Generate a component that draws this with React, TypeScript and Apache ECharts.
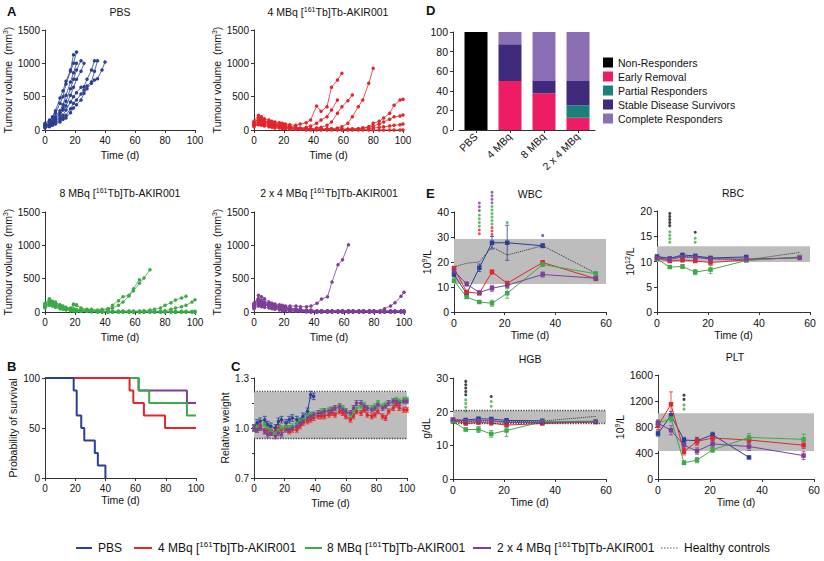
import React, { useEffect, useRef } from 'react';
import * as echarts from 'echarts';

// ---------------- Data ----------------
const groupNames = ['PBS', '4 MBq [161Tb]Tb-AKIR001', '8 MBq [161Tb]Tb-AKIR001', '2 x 4 MBq [161Tb]Tb-AKIR001'];
const healthyName = 'Healthy controls';

// Panel A – individual tumour volumes (mm3)
const pbsDays = [0, 3, 5, 7, 10, 12, 14, 17, 19, 21, 24, 26, 28, 31, 33, 35, 38, 40];
const pbsMice = [
  [80, 130, 200, 290, 480, 590, 730, 900, 1130],
  [100, 150, 180, 250, 400, 500, 690, 880, 1000, 1170],
  [60, 90, 130, 200, 290, 380, 520, 720, 860, 1000],
  [70, 100, 140, 170, 260, 330, 430, 620, 760, 900, 1040],
  [50, 80, 110, 150, 220, 300, 360, 520, 640, 760, 880, 1000],
  [90, 60, 100, 130, 180, 220, 300, 420, 500, 560, 640, 650, 760, 900, 1040],
  [40, 60, 80, 110, 150, 180, 220, 320, 400, 450, 540, 600, 660, 720, 880, 1040],
  [30, 50, 70, 90, 120, 160, 180, 260, 330, 380, 450, 550, 620, 700, 750, 770, 900, 1020],
];
const tDays = [0, 3, 5, 7, 10, 12, 14, 17, 19, 21, 24, 28, 31, 35, 38, 42, 45, 49, 52, 56, 59, 63, 66, 70, 73, 77, 80, 84, 87, 91, 94, 98, 100];
const mbq4Mice = [
  [130, 220, 200, 170, 150, 130, 120, 110, 100, 90, 80, 70, 90, 110, 150, 360, 280, 350, 640, 750, 850],
  [100, 180, 160, 140, 120, 110, 100, 90, 80, 70, 60, 40, 30, 40, 60, 100, 150, 200, 300, 450],
  [80, 150, 140, 120, 100, 90, 80, 70, 60, 50, 40, 30, 20, 20, 20, 30, 40, 70, 120, 250, 350, 440, 525],
  [60, 100, 90, 80, 70, 60, 50, 40, 30, 30, 20, 20, 10, 10, 10, 10, 10, 20, 20, 30, 50, 100, 200, 350, 450, 700, 925],
  [120, 160, 150, 130, 110, 100, 80, 70, 60, 50, 40, 30, 20, 20, 10, 10, 10, 10, 10, 10, 10, 10, 20, 20, 30, 50, 100, 130, 180, 250, 370, 450, 460],
  [90, 130, 120, 110, 100, 90, 80, 60, 50, 40, 30, 20, 20, 10, 10, 10, 10, 10, 10, 10, 10, 10, 10, 20, 30, 40, 60, 90, 120, 160, 200, 210, 225],
  [70, 100, 100, 90, 80, 70, 60, 50, 40, 30, 30, 20, 20, 10, 10, 10, 10, 10, 10, 10, 10, 10, 10, 10, 10, 20, 30, 40, 50, 60, 70, 80, 90],
  [50, 80, 70, 60, 50, 40, 30, 30, 20, 20, 10, 10, 10, 0, 0, 0, 0, 0, 0, 0, 0, 0, 0, 0, 0, 0, 0, 0, 0, 0, 0, 0, 0],
];
const mbq8Mice = [
  [100, 200, 160, 150, 100, 80, 60, 50, 110, 100, 60, 40, 40, 30, 40, 50, 100, 170, 230, 250, 350, 485],
  [80, 150, 130, 120, 90, 70, 50, 40, 120, 110, 50, 30, 30, 20, 30, 40, 60, 100, 150, 240, 320, 430, 510, 635],
  [120, 180, 140, 120, 80, 60, 50, 40, 30, 30, 20, 20, 10, 10, 10, 10, 10, 10, 10, 10, 10, 10, 20, 30, 40, 60, 100, 140, 180, 210, 235],
  [90, 140, 120, 100, 70, 60, 50, 40, 30, 30, 20, 20, 10, 10, 10, 10, 10, 10, 10, 10, 10, 10, 10, 10, 10, 10, 20, 40, 60, 80, 100, 150, 185],
  [110, 130, 110, 90, 80, 70, 60, 50, 40, 30, 20, 10, 10, 0, 0, 0, 0, 0, 0, 0, 0, 0, 0, 0, 0, 0, 0, 0, 0, 0, 0, 0, 0],
  [60, 110, 100, 80, 60, 50, 40, 30, 20, 20, 10, 10, 10, 10, 0, 0, 0, 0, 0, 0, 0, 0, 0, 0, 0, 0, 0, 0, 0, 0, 0, 0, 0],
  [130, 190, 150, 130, 110, 90, 70, 60, 50, 40, 30, 20, 20, 10, 10, 10, 10, 10, 10, 10, 10, 10, 10, 10, 10, 10, 10, 10, 10, 10, 10, 10, 10],
  [70, 100, 90, 70, 50, 40, 30, 20, 20, 10, 10, 10, 0, 0, 0, 0, 0, 0, 0, 0, 0, 0, 0, 0, 0, 0, 0, 0, 0, 0, 0, 0, 0],
];
const mbq2x4Mice = [
  [110, 250, 230, 200, 150, 130, 120, 110, 100, 90, 90, 90, 80, 80, 90, 130, 195, 230, 450, 710, 785, 1010],
  [130, 200, 180, 150, 120, 100, 90, 80, 70, 60, 50, 40, 30, 20, 20, 20, 20, 20, 20, 20, 20, 20, 20, 20, 20, 20, 20, 20, 50, 90, 140, 235, 295],
  [100, 170, 150, 130, 110, 100, 90, 80, 70, 60, 50, 40, 30, 20, 20, 10, 10, 10, 10, 10, 10, 10, 10, 10, 10, 10, 10, 10, 10, 10, 10, 10, 10],
  [80, 140, 130, 110, 100, 90, 80, 70, 60, 50, 40, 30, 20, 10, 10, 0, 0, 0, 0, 0, 0, 0, 0, 0, 0, 0, 0, 0, 0, 0, 0, 0, 0],
  [60, 120, 110, 100, 90, 80, 70, 60, 50, 40, 30, 20, 10, 10, 0, 0, 0, 0, 0, 0, 0, 0, 0, 0, 0, 0, 0, 0, 0, 0, 0, 0, 0],
  [120, 190, 170, 150, 130, 110, 100, 90, 80, 70, 60, 50, 40, 30, 30, 20, 20, 20, 20, 20, 20, 20, 20, 20, 20, 20, 20, 20, 20, 20, 20, 20, 20],
  [50, 90, 80, 70, 60, 50, 40, 30, 20, 20, 10, 10, 10, 0, 0, 0, 0, 0, 0, 0, 0, 0, 0, 0, 0, 0, 0, 0, 0, 0, 0, 0, 0],
  [90, 160, 140, 120, 100, 80, 60, 50, 40, 30, 20, 20, 10, 10, 10, 10, 10, 10, 10, 10, 10, 10, 10, 10, 10, 10, 10, 10, 10, 10, 10, 10, 10],
];

// Panel B – survival (%)
const survPBS = [[0, 100], [19, 87.5], [21, 62.5], [24, 50], [26, 37.5], [33, 25], [35, 12.5], [40, 0]];
const surv4 = [[0, 100], [56, 87.5], [58.5, 75], [65.5, 62.5], [79.5, 50], [100, 50]];
const surv8 = [[0, 100], [62, 87.5], [69, 75], [94, 62.5], [100, 62.5]];
const surv2x4 = [[0, 100], [62, 87.5], [94, 75], [100, 75]];

// Panel C – relative weight
const cDays = [0, 2, 4, 7, 9, 11, 14, 16, 18, 21, 23, 25, 28, 30, 32, 35, 37, 39, 42, 44, 46, 49, 51, 53, 56, 58, 60, 63, 65, 67, 70, 72, 74, 77, 79, 81, 84, 86, 88, 91, 93, 95, 98, 100];
const cPBS = [1.0, 1.03, 1.04, 1.05, 1.02, 1.01, 1.0, 1.04, 1.05, 1.03, 1.05, 1.06, 1.05, 1.04, 1.07, 1.10, 1.20, 1.19];
const cM4 = [1.0, 0.99, 1.01, 0.98, 0.99, 0.97, 0.98, 1.0, 0.99, 1.0, 0.98, 0.99, 0.99, 1.01, 1.03, 1.04, 1.05, 1.06, 1.07, 1.07, 1.07, 1.08, 1.09, 1.08, 1.10, 1.09, 1.07, 1.05, 1.07, 1.10, 1.09, 1.11, 1.08, 1.07, 1.08, 1.10, 1.07, 1.06, 1.10, 1.12, 1.14, 1.12, 1.11, 1.11];
const cM8 = [1.0, 1.01, 1.0, 1.02, 1.0, 0.98, 0.97, 0.99, 1.0, 1.01, 1.0, 1.01, 1.02, 1.04, 1.05, 1.07, 1.08, 1.08, 1.09, 1.10, 1.10, 1.11, 1.11, 1.12, 1.13, 1.12, 1.10, 1.08, 1.10, 1.12, 1.13, 1.14, 1.12, 1.12, 1.13, 1.15, 1.13, 1.14, 1.15, 1.16, 1.17, 1.16, 1.17, 1.17];
const cM24 = [1.0, 0.99, 1.0, 0.98, 0.96, 0.97, 0.95, 0.97, 0.96, 0.99, 0.99, 1.0, 1.01, 1.03, 1.04, 1.06, 1.07, 1.08, 1.09, 1.09, 1.10, 1.10, 1.11, 1.12, 1.13, 1.11, 1.10, 1.09, 1.12, 1.15, 1.15, 1.13, 1.12, 1.11, 1.12, 1.14, 1.12, 1.13, 1.15, 1.16, 1.16, 1.15, 1.16, 1.16];
const cErr = [0.02, 0.015, 0.015, 0.015];
const weightBand = [0.935, 1.215];

// Panel D – response (%)
const dCats = ['PBS', '4 MBq', '8 MBq', '2 x 4 MBq'];
const dNames = ['Non-Responders', 'Early Removal', 'Partial Responders', 'Stable Disease Survivors', 'Complete Responders'];
const dNonResp = [100, 0, 0, 0];
const dEarly = [0, 50, 37.5, 12.5];
const dPartial = [0, 0, 0, 12.5];
const dStable = [0, 37.5, 12.5, 25];
const dComplete = [0, 12.5, 50, 50];

// Panel E – blood counts (order: PBS, 4 MBq, 8 MBq, 2 x 4 MBq)
const eDays = [0, 5, 10, 15, 21, 35, 56];
const wbcMean = [
  [15, 7.3, 17.7, 27.7, 27.7, 26.5],
  [17.5, 8, 7.5, 16, 11.5, 19.8, 13.3],
  [12.5, 6, 4, 3.5, 7.5, 19, 15.3],
  [16.4, 11.2, 7.8, 9.5, 10.7, 15, 13.5],
];
const wbcErr = [
  [1, 1, 1.5, 2.5, 7, 0.8],
  [0.8, 0.6, 0.6, 0.8, 0.8, 0.8, 0.8],
  [0.8, 0.5, 0.6, 1.2, 2, 0.8, 0.8],
  [0.8, 0.8, 0.6, 1.2, 1, 1, 0.8],
];
const wbcHealthy = [18, 19.5, 20, 26, 22.8, 26.5, 15.5];
const wbcBand = [11.2, 29.2];
const wbcStars = [
  [10, 31.3, 1], [10, 32.8, 1], [10, 34.3, 2], [10, 35.8, 2], [10, 37.3, 2], [10, 38.8, 2], [10, 40.6, 3], [10, 42.1, 3], [10, 43.6, 3],
  [15, 31.0, 1], [15, 32.4, 1], [15, 33.8, 1], [15, 35.2, 2], [15, 36.6, 2], [15, 38.0, 2], [15, 39.4, 2], [15, 40.8, 2], [15, 42.2, 2],
  [15, 43.7, 3], [15, 45.1, 3], [15, 46.5, 3], [15, 47.9, 3], [21, 35.8, 2], [35, 30.6, 0],
];
const rbcMean = [
  [11, 10.6, 11.3, 11.1, 10.7, 10.9],
  [10.6, 10.1, 10.3, 10.1, 9.8, 10.3, 10.8],
  [10.5, 8.9, 9.0, 7.9, 8.4, 10.2, 10.9],
  [10.7, 10.4, 10.9, 10.8, 10.5, 10.5, 10.7],
];
const rbcErr = [
  [0.2, 0.2, 0.2, 0.3, 0.3, 0.2],
  [0.2, 0.2, 0.4, 0.3, 0.3, 0.2, 0.3],
  [0.2, 0.2, 0.4, 0.5, 0.8, 0.2, 0.2],
  [0.2, 0.3, 0.3, 0.3, 0.3, 0.2, 0.2],
];
const rbcHealthy = [10.8, 10.7, 11.0, 10.9, 10.6, 10.3, 11.8];
const rbcBand = [9.9, 13];
const rbcStars = [
  [5, 19.5, 4], [5, 18.9, 4], [5, 18.3, 4], [5, 17.7, 4], [5, 17.1, 4], [5, 15.9, 2], [5, 15.2, 2], [5, 14.5, 2], [5, 13.8, 2],
  [15, 15.8, 4], [15, 14.6, 2], [15, 13.8, 2],
];
const hgbMean = [
  [17.5, 17.5, 17.9, 17.8, 17.4, 17.3],
  [17.3, 16.5, 16.8, 16.6, 16.0, 16.5, 16.9],
  [17.0, 14.7, 14.7, 13.4, 14.4, 17.0, 17.2],
  [17.7, 17.2, 17.3, 17.3, 16.8, 16.8, 17.0],
];
const hgbErr = [
  [0.4, 0.5, 0.4, 0.5, 0.5, 0.4],
  [0.4, 0.4, 0.5, 0.5, 0.5, 0.3, 0.4],
  [0.4, 0.4, 0.9, 1.0, 1.8, 0.4, 0.4],
  [0.4, 0.4, 0.4, 0.4, 0.4, 0.4, 0.4],
];
const hgbHealthy = [17.3, 17.0, 17.3, 17.2, 17.0, 17.2, 18.6];
const hgbBand = [16.6, 20.3];
const hgbStars = [
  [5, 29, 4], [5, 28, 4], [5, 27, 4], [5, 26, 4], [5, 25, 4], [5, 23.5, 2], [5, 22.4, 2], [5, 21.3, 2], [5, 20.2, 2],
  [15, 24.5, 4], [15, 23, 2], [15, 21.6, 2],
];
const pltMean = [
  [700, 980, 600, 590, 680, 332],
  [820, 1150, 420, 580, 630, 600, 520],
  [860, 930, 250, 290, 450, 640, 610],
  [860, 750, 520, 430, 540, 500, 360],
];
const pltErr = [
  [40, 60, 40, 50, 40, 10],
  [60, 190, 50, 60, 50, 50, 50],
  [40, 50, 30, 40, 40, 60, 80],
  [50, 70, 60, 50, 50, 60, 60],
];
const pltBand = [430, 1010];
const pltStars = [[10, 1290, 4], [10, 1225, 4], [10, 1140, 2], [10, 1075, 2]];

// ---------------- Styling ----------------
const FONT = "'Liberation Sans', Arial, Helvetica, sans-serif";
const COLORS = ['#2B3F94', '#E3262B', '#3DAA49', '#7E3F98', '#111111'];
const D_COLORS = ['#000000', '#EE1C64', '#1B7F7A', '#3F2A7C', '#8B6FB5'];
const AXC = '#333333';
const TXT = '#111111';
const BAND = '#BDBDBD';

const supName = (s: string) => s.replace('[161Tb]', '[{s|161}Tb]');

function axis(grid: number, min: number, max: number, interval: number, name: string, gap: number, fs: number): any {
  return {
    type: 'value', gridIndex: grid, min, max, interval,
    name, nameLocation: 'middle', nameGap: gap,
    nameTextStyle: {
      fontSize: 10.5, color: TXT, fontFamily: FONT, lineHeight: 12,
      rich: { s: { fontSize: 7, lineHeight: 7, verticalAlign: 'top', color: TXT, fontFamily: FONT } },
    },
    axisLine: { show: true, onZero: false, lineStyle: { color: AXC, width: 1 } },
    axisTick: { show: true, length: 3, lineStyle: { color: AXC, width: 1 } },
    axisLabel: { fontSize: fs, color: TXT, margin: 5, fontFamily: FONT, formatter: (v: number) => String(v) },
    splitLine: { show: false },
  };
}

function errSeries(grid: number, items: number[][]): any {
  return {
    type: 'custom', xAxisIndex: grid, yAxisIndex: grid, silent: true, z: 2,
    data: items, encode: { x: 0, y: [1, 2] },
    renderItem: (_p: any, api: any) => {
      const x = api.value(0);
      const a = api.coord([x, api.value(1)]);
      const b = api.coord([x, api.value(2)]);
      const st = { stroke: COLORS[api.value(3)], lineWidth: 0.8 };
      const cap = 2;
      return {
        type: 'group',
        children: [
          { type: 'line', shape: { x1: a[0], y1: a[1], x2: b[0], y2: b[1] }, style: st },
          { type: 'line', shape: { x1: a[0] - cap, y1: a[1], x2: a[0] + cap, y2: a[1] }, style: st },
          { type: 'line', shape: { x1: b[0] - cap, y1: b[1], x2: b[0] + cap, y2: b[1] }, style: st },
        ],
      };
    },
  };
}

function bandSeries(grid: number, x0: number, x1: number, band: number[], dotted: boolean): any {
  const s: any = {
    type: 'line', xAxisIndex: grid, yAxisIndex: grid, data: [], silent: true, z: 1,
    markArea: { silent: true, itemStyle: { color: BAND }, data: [[{ xAxis: x0, yAxis: band[0] }, { xAxis: x1, yAxis: band[1] }]] },
  };
  if (dotted) {
    s.markLine = {
      silent: true, symbol: 'none', label: { show: false },
      lineStyle: { color: '#444', type: 'dotted', width: 1.3 },
      data: [{ yAxis: band[0] }, { yAxis: band[1] }],
    };
  }
  return s;
}

function gText(x: number, y: number, text: string, extra: any = {}): any {
  return {
    type: 'text', x, y, silent: true,
    style: {
      text, fontSize: 10.5, fontFamily: FONT, fill: TXT,
      align: 'center', verticalAlign: 'middle', textAlign: 'center', textVerticalAlign: 'middle',
      lineHeight: 13,
      rich: { s: { fontSize: 7, lineHeight: 7, verticalAlign: 'top', fill: TXT, fontFamily: FONT } },
      ...extra,
    },
  };
}

function buildOption(): any {
  const grids = [
    { left: 45, top: 30, width: 150, height: 100 },
    { left: 254, top: 30, width: 149, height: 100 },
    { left: 45, top: 212, width: 150, height: 100 },
    { left: 254, top: 212, width: 150, height: 100 },
    { left: 45, top: 378, width: 151, height: 100 },
    { left: 254, top: 378, width: 153, height: 100 },
    { left: 459, top: 32, width: 136, height: 98 },
    { left: 454, top: 212, width: 152, height: 100 },
    { left: 657, top: 211, width: 153, height: 101 },
    { left: 453, top: 378, width: 153, height: 101 },
    { left: 658, top: 375, width: 156, height: 104 },
  ];

  const xAxes: any[] = [
    axis(0, 0, 100, 20, 'Time (d)', 19, 10),
    axis(1, 0, 100, 20, 'Time (d)', 19, 10),
    axis(2, 0, 100, 20, 'Time (d)', 19, 10),
    axis(3, 0, 100, 20, 'Time (d)', 19, 10),
    axis(4, 0, 100, 20, 'Time (d)', 15, 10),
    axis(5, 0, 100, 20, 'Time (d)', 19, 10),
    {
      type: 'category', gridIndex: 6, data: dCats,
      axisLine: { show: true, lineStyle: { color: AXC, width: 1 } },
      axisTick: { show: true, alignWithLabel: true, length: 3, lineStyle: { color: AXC } },
      axisLabel: { rotate: 45, fontSize: 10.5, color: TXT, margin: 5, fontFamily: FONT, interval: 0 },
    },
    axis(7, 0, 60, 20, 'Time (d)', 14, 10.5),
    axis(8, 0, 60, 20, 'Time (d)', 15, 10.5),
    axis(9, 0, 60, 20, 'Time (d)', 15, 10.5),
    axis(10, 0, 60, 20, 'Time (d)', 15, 10.5),
  ];
  const tv = 'Tumour volume  (mm{s|3})';
  const yAxes: any[] = [
    axis(0, 0, 1500, 500, tv, 27, 10),
    axis(1, 0, 1500, 500, tv, 27, 10),
    axis(2, 0, 1500, 500, tv, 27, 10),
    axis(3, 0, 1500, 500, tv, 27, 10),
    axis(4, 0, 100, 50, 'Probability of survival', 25, 10),
    axis(5, 0.7, 1.3, 0.3, 'Relative weight', 22, 10),
    axis(6, 0, 100, 20, '', 0, 10.5),
    axis(7, 0, 40, 10, '10{s|9}/L', 15, 10.5),
    axis(8, 0, 20, 5, '10{s|12}/L', 12, 10.5),
    axis(9, 0, 30, 10, 'g/dL', 16, 10.5),
    axis(10, 0, 1600, 400, '10{s|9}/L', 26, 10.5),
  ];
  yAxes[5].axisLabel.formatter = (v: number) => v.toFixed(1);
  yAxes[5].minorTick = { show: true, splitNumber: 2, length: 2, lineStyle: { color: AXC } };
  yAxes[6].offset = 6;

  const series: any[] = [];

  // Panel A
  const miceSets: [number, number[], number[][], number][] = [
    [0, pbsDays, pbsMice, 0], [1, tDays, mbq4Mice, 1], [2, tDays, mbq8Mice, 2], [3, tDays, mbq2x4Mice, 3],
  ];
  miceSets.forEach(([g, days, mice, ci]) => {
    mice.forEach((vals) => {
      series.push({
        type: 'line', xAxisIndex: g, yAxisIndex: g, silent: true, z: 3,
        name: groupNames[ci],
        data: vals.map((v, i) => [days[i], v]),
        symbol: 'circle', symbolSize: 3.5, showSymbol: true,
        lineStyle: { color: COLORS[ci], width: 0.8 }, itemStyle: { color: COLORS[ci] },
      });
    });
  });

  // Panel B (draw order: purple, green, red, blue)
  const surv: [number[][], number][] = [[surv2x4, 3], [surv8, 2], [surv4, 1], [survPBS, 0]];
  surv.forEach(([d, ci]) => {
    series.push({
      type: 'line', xAxisIndex: 4, yAxisIndex: 4, step: 'end', silent: true, z: 3,
      name: groupNames[ci], data: d, symbol: 'none',
      lineStyle: { color: COLORS[ci], width: 2 },
    });
  });

  // Panel C
  series.push(bandSeries(5, 0, 100, weightBand, true));
  const cSets = [cPBS, cM4, cM8, cM24];
  const cItems: number[][] = [];
  cSets.forEach((vals, g) => vals.forEach((v, i) => cItems.push([cDays[i], v - cErr[g], v + cErr[g], g])));
  series.push(errSeries(5, cItems));
  cSets.forEach((vals, g) => {
    series.push({
      type: 'line', xAxisIndex: 5, yAxisIndex: 5, silent: true, z: 3, name: groupNames[g],
      data: vals.map((v, i) => [cDays[i], v]),
      symbol: 'circle', symbolSize: 3.5,
      lineStyle: { color: COLORS[g], width: 1 }, itemStyle: { color: COLORS[g] },
    });
  });

  // Panel D
  [dNonResp, dEarly, dPartial, dStable, dComplete].forEach((vals, k) => {
    series.push({
      type: 'bar', xAxisIndex: 6, yAxisIndex: 6, stack: 'resp', name: dNames[k],
      data: vals, barWidth: 23, itemStyle: { color: D_COLORS[k] }, silent: true,
    });
  });

  // Panel E
  const ePanels: any[] = [
    { grid: 7, mean: wbcMean, err: wbcErr, healthy: wbcHealthy, band: wbcBand, stars: wbcStars, dotted: false },
    { grid: 8, mean: rbcMean, err: rbcErr, healthy: rbcHealthy, band: rbcBand, stars: rbcStars, dotted: false },
    { grid: 9, mean: hgbMean, err: hgbErr, healthy: hgbHealthy, band: hgbBand, stars: hgbStars, dotted: true },
    { grid: 10, mean: pltMean, err: pltErr, healthy: null, band: pltBand, stars: pltStars, dotted: false },
  ];
  ePanels.forEach((p) => {
    series.push(bandSeries(p.grid, 0, 60, p.band, p.dotted));
    if (p.healthy) {
      series.push({
        type: 'line', xAxisIndex: p.grid, yAxisIndex: p.grid, silent: true, z: 3, name: healthyName,
        data: p.healthy.map((v: number, i: number) => [eDays[i], v]), symbol: 'none',
        lineStyle: { color: '#333', width: 1, type: 'dotted' },
      });
    }
    const items: number[][] = [];
    p.mean.forEach((vals: number[], g: number) => vals.forEach((v, i) => items.push([eDays[i], v - p.err[g][i], v + p.err[g][i], g])));
    series.push(errSeries(p.grid, items));
    p.mean.forEach((vals: number[], g: number) => {
      series.push({
        type: 'line', xAxisIndex: p.grid, yAxisIndex: p.grid, silent: true, z: 3, name: groupNames[g],
        data: vals.map((v, i) => [eDays[i], v]),
        symbol: 'rect', symbolSize: 4.5,
        lineStyle: { color: COLORS[g], width: 1 }, itemStyle: { color: COLORS[g] },
      });
    });
    series.push({
      type: 'scatter', xAxisIndex: p.grid, yAxisIndex: p.grid, silent: true, z: 4, clip: false,
      symbol: 'circle', symbolSize: 3,
      data: p.stars.map((s: number[]) => ({ value: [s[0], s[1]], itemStyle: { color: COLORS[s[2]] } })),
    });
  });

  // Graphic texts
  const letter = (x: number, y: number, t: string) => gText(x, y, t, { fontSize: 13, fontWeight: 'bold', align: 'left', textAlign: 'left' });
  const graphic: any[] = [
    letter(7, 11, 'A'), letter(7, 366, 'B'), letter(231, 366, 'C'), letter(426, 10, 'D'), letter(426, 193, 'E'),
    gText(120, 12, 'PBS'),
    gText(328, 12, supName(groupNames[1])),
    gText(120, 193, supName(groupNames[2])),
    gText(329, 193, supName(groupNames[3])),
    gText(530, 194, 'WBC'),
    gText(733, 193, 'RBC'),
    gText(530, 359, 'HGB'),
    gText(735, 357, 'PLT'),
  ];
  // bottom legend
  const legY = 548;
  const legItems: [number, number, number, string, number, boolean][] = [
    [76, 92, 0, groupNames[0], 98, false],
    [134, 152, 1, groupNames[1], 158, false],
    [305, 322, 2, groupNames[2], 327, false],
    [473, 491, 3, groupNames[3], 497, false],
    [661, 678, 4, healthyName, 684, true],
  ];
  legItems.forEach(([x1, x2, ci, name, tx, dotted]) => {
    graphic.push({
      type: 'line', silent: true,
      shape: { x1, y1: legY, x2, y2: legY },
      style: dotted ? { stroke: '#555', lineWidth: 1, lineDash: [1.5, 1.5] } : { stroke: COLORS[ci], lineWidth: 2 },
    });
    graphic.push(gText(tx, legY, supName(name), {
      fontSize: 12, align: 'left', textAlign: 'left', lineHeight: 15,
      rich: { s: { fontSize: 8, lineHeight: 8, verticalAlign: 'top', fill: TXT, fontFamily: FONT } },
    }));
  });

  return {
    animation: false,
    backgroundColor: '#ffffff',
    textStyle: { fontFamily: FONT },
    grid: grids,
    xAxis: xAxes,
    yAxis: yAxes,
    legend: [{
      data: dNames, orient: 'vertical', left: 598, top: 52,
      itemWidth: 10, itemHeight: 10, itemGap: 3, icon: 'rect', selectedMode: false,
      textStyle: { fontSize: 10.5, color: TXT, fontFamily: FONT },
    }],
    series,
    graphic,
  };
}

export default function App() {
  const ref = useRef<HTMLDivElement>(null);
  useEffect(() => {
    document.body.style.margin = '0';
    const chart = echarts.init(ref.current as HTMLDivElement, null, { renderer: 'svg', width: 824, height: 561 });
    chart.setOption(buildOption());
    return () => chart.dispose();
  }, []);
  return <div ref={ref} style={{ width: 824, height: 561, background: '#fff' }} />;
}
